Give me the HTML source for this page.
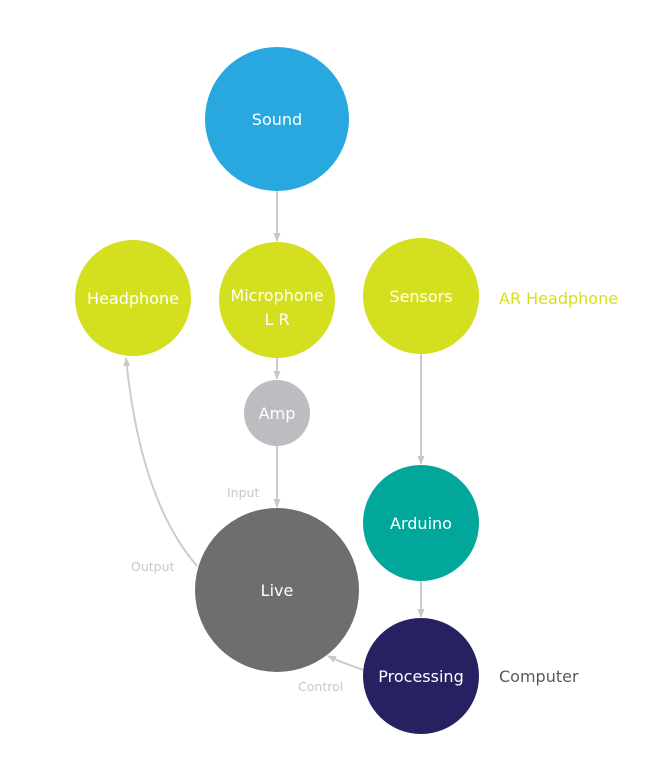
<!DOCTYPE html>
<html><head><meta charset="utf-8"><style>
html,body{margin:0;padding:0;background:#fff;}
svg{display:block;}
text{font-family:"DejaVu Sans","Liberation Sans",sans-serif;}
</style></head><body>
<svg width="660" height="784" viewBox="0 0 660 784" xmlns="http://www.w3.org/2000/svg">
<defs>
<marker id="a" markerWidth="10" markerHeight="10" refX="8" refY="5" orient="auto" markerUnits="userSpaceOnUse">
<path d="M0,1.5 L9,5 L0,8.5 Z" fill="#c8c8c8"/></marker>
</defs>
<g stroke="#cccccc" stroke-width="2" fill="none">
<line x1="277" y1="191" x2="277" y2="241" marker-end="url(#a)"/>
<line x1="277" y1="358" x2="277" y2="379" marker-end="url(#a)"/>
<line x1="277" y1="446" x2="277" y2="507" marker-end="url(#a)"/>
<line x1="421" y1="354" x2="421" y2="464" marker-end="url(#a)"/>
<line x1="421" y1="581" x2="421" y2="617" marker-end="url(#a)"/>
<path d="M197,566 Q140,500 126,358" marker-end="url(#a)"/>
<path d="M364,670 Q345,664 328,656" marker-end="url(#a)"/>
</g>
<circle cx="277" cy="119" r="72" fill="#29a8e0"/>
<circle cx="133" cy="298" r="58" fill="#d4df20"/>
<circle cx="277" cy="300" r="58" fill="#d4df20"/>
<circle cx="421" cy="296" r="58" fill="#d4df20"/>
<circle cx="277" cy="413" r="33" fill="#bcbdc0"/>
<circle cx="277" cy="590" r="82" fill="#6d6e70"/>
<circle cx="421" cy="523" r="58" fill="#00a79a"/>
<circle cx="421" cy="676" r="58" fill="#262262"/>
<g fill="#fff" font-size="16" text-anchor="middle">
<text x="277" y="125">Sound</text>
<text x="133" y="304">Headphone</text>
<text x="277" y="301">Microphone</text>
<text x="277" y="325">L R</text>
<text x="421" y="302">Sensors</text>
<text x="277" y="419">Amp</text>
<text x="277" y="596">Live</text>
<text x="421" y="529">Arduino</text>
<text x="421" y="682">Processing</text>
</g>
<text x="499" y="304" font-size="16" fill="#d4df20">AR Headphone</text>
<text x="499" y="682" font-size="16" fill="#58595b">Computer</text>
<g fill="#c8c8c8" font-size="12.5">
<text x="227" y="497">Input</text>
<text x="131" y="571">Output</text>
<text x="298" y="691">Control</text>
</g>
</svg>
</body></html>
